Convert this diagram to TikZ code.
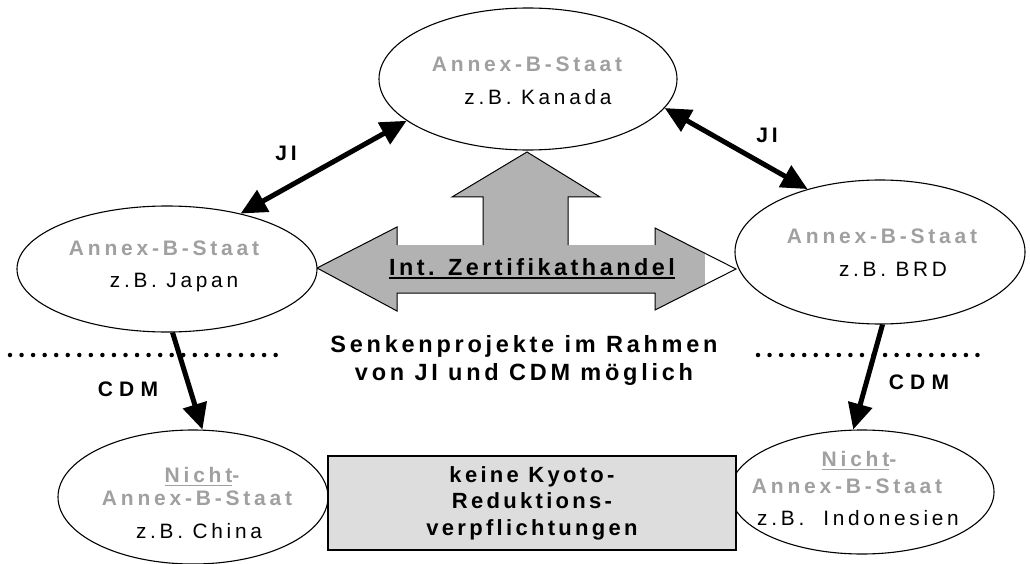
\documentclass[tikz,border=0pt]{standalone}
\usepackage{fontspec}
\setmainfont{Liberation Sans}
% tracked (letter-spaced) variants of the sans face
\newfontfamily\trackwide[LetterSpace=18]{Liberation Sans}
\newfontfamily\trackmid[LetterSpace=15]{Liberation Sans}
\newfontfamily\tracknote[LetterSpace=16]{Liberation Sans}
\newfontfamily\trackcdm[LetterSpace=30]{Liberation Sans}
\usetikzlibrary{arrows.meta,shapes.geometric}

\definecolor{annexgray}{HTML}{A0A0A0}
\definecolor{arrowgray}{HTML}{B2B2B2}
\definecolor{boxgray}{HTML}{DDDDDD}

% underline drawn as a rule in the current text colour
\newcommand\ulbar[2][1.4pt]{\setbox0\hbox{#2}\rlap{\rule[-4pt]{\wd0}{#1}}\box0}

\begin{document}
\begin{tikzpicture}[x=1pt,y=-1pt,
  state/.style={ellipse, draw, line width=1.1pt, fill=white, inner sep=0pt},
  annex/.style={anchor=base, inner sep=0pt, text=annexgray,
    font=\trackwide\bfseries\fontsize{21}{24}\selectfont},
  example/.style={anchor=base, inner sep=0pt,
    font=\trackwide\fontsize{20.8}{24}\selectfont},
  mechanism/.style={anchor=base, inner sep=0pt,
    font=\trackwide\bfseries\fontsize{21}{24}\selectfont},
  cdmtag/.style={anchor=base, inner sep=0pt,
    font=\trackcdm\bfseries\fontsize{21}{24}\selectfont},
  flow/.style={line width=5pt, -{Triangle[length=26pt,width=24pt]}},
  twoway/.style={line width=5pt,
    {Triangle[length=26pt,width=24pt]}-{Triangle[length=26pt,width=24pt]}},
  dotrule/.style={line width=4.5pt, line cap=round, dash pattern=on 0pt off 11.55pt},
  note/.style={anchor=base, inner sep=0pt,
    font=\tracknote\bfseries\fontsize{23.5}{28}\selectfont}
]
\useasboundingbox (0,0) rectangle (1030,564);

% dotted separators
\draw[dotrule] (10,355) -- (287,355);
\draw[dotrule] (758,355) -- (983,355);

% large grey arrow (trade in all directions)
\fill[arrowgray] (317,268) -- (397,227) -- (397,245) -- (483,245) -- (483,197)
  -- (452,197) -- (527,152) -- (600,197) -- (568,197) -- (568,245)
  -- (655,245) -- (655,228) -- (736,269) -- (655,310) -- (655,293)
  -- (397,293) -- (397,311) -- cycle;
\fill[white] (705,245) rectangle (738,287);
\draw[line width=1pt, line join=miter] (397,245) -- (397,227) -- (317,268)
  -- (397,311) -- (397,293) -- (655,293) -- (655,310) -- (736,269)
  -- (655,228) -- (655,245);
\draw[line width=1pt, line join=miter] (483,245) -- (483,197) -- (452,197)
  -- (527,152) -- (600,197) -- (568,197) -- (568,245);

% states
\node[state, minimum width=298pt, minimum height=142pt] (kanada) at (528,79) {};
\node[state, minimum width=300pt, minimum height=126pt] (japan) at (167,269) {};
\node[state, minimum width=290pt, minimum height=144pt] (brd) at (880,252) {};
\node[state, minimum width=270pt, minimum height=134pt] (china) at (193,497) {};
\node[state, minimum width=264pt, minimum height=124pt] (indonesien) at (862,492) {};

% no reduction obligations
\node[draw, fill=boxgray, line width=1.4pt, minimum width=408pt, minimum height=94pt,
  align=center, inner sep=0pt,
  font=\trackmid\bfseries\fontsize{22}{26.5}\selectfont]
  (kyoto) at (532,503) {keine Kyoto-\\Reduktions-\\verpflichtungen};

% JI and CDM relations
\draw[twoway] (japan.37.5) -- (kanada.199);
\draw[twoway] (kanada.348) -- (brd.139);
\draw[flow] (japan.275) -- (china.82);
\draw[flow] (brd.272) -- (indonesien.98);

% labels of the states
\node[annex] (kanadaA) at (527,72) {Annex-B-Staat};
\node[example] (kanadaB) at (538,105) {z.B. Kanada};
\node[annex] (japanA) at (164,255) {Annex-B-Staat};
\node[example] (japanB) at (174,287) {z.B. Japan};
\node[annex] (brdA) at (882,243) {Annex-B-Staat};
\node[example] (brdB) at (893,276) {z.B. BRD};
\node[annex] (chinaN) at (202,482) {\ulbar{Nicht}-};
\node[annex] (chinaA) at (197,505) {Annex-B-Staat};
\node[example] (chinaB) at (199,538) {z.B. China};
\node[annex] (indoN) at (859,466) {\ulbar{Nicht}-};
\node[annex] (indoA) at (847,493) {Annex-B-Staat};
\node[example] (indoB) at (858,525) {z.B.\ \ Indonesien};

% mechanism labels
\node[mechanism] (jiL) at (286,161) {JI};
\node[mechanism] (jiR) at (767,143) {JI};
\node[cdmtag] (cdmL) at (128,396) {CDM};
\node[cdmtag] (cdmR) at (919,389) {CDM};

% trade label and note
\node[anchor=base, inner sep=0pt, font=\trackmid\bfseries\fontsize{23.4}{28}\selectfont]
  (handel) at (532,275) {\ulbar[1.6pt]{Int. Zertifikathandel}};
\node[note] (senkenA) at (524,352) {Senkenprojekte im Rahmen};
\node[note] (senkenB) at (524,380) {von JI und CDM möglich};
\end{tikzpicture}
\end{document}
